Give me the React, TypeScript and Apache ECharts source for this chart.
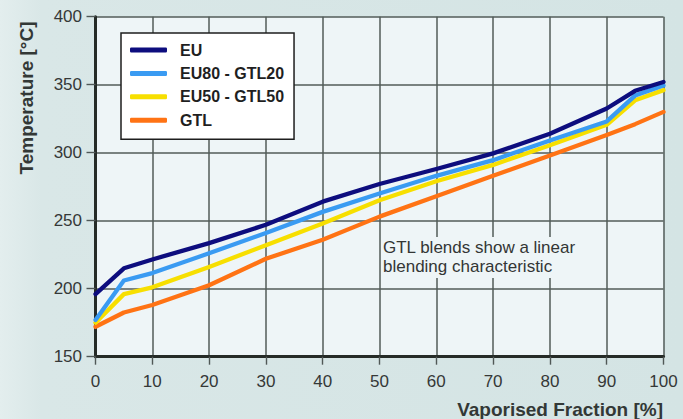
import React, { useEffect, useRef } from "react";
import * as echarts from "echarts";

// Distillation curves: temperature vs. vaporised fraction
const fraction = [0, 5, 10, 20, 30, 40, 50, 60, 70, 80, 90, 95, 100];
const euTemp = [196, 215, 221.5, 233.5, 247, 264, 277, 288, 299.5, 314, 332.5, 345.5, 352];
const eu80Temp = [177, 206, 211.5, 226, 241, 256.5, 270, 283, 294.5, 309, 323, 342, 349.5];
const eu50Temp = [175, 196, 201, 216, 232, 248, 265, 279, 291, 305.5, 320.5, 338.5, 346];
const gtlTemp = [172, 182.5, 188, 202.5, 222, 236, 253, 268, 283, 298, 313, 321, 330];

const seriesNames = ["EU", "EU80 - GTL20", "EU50 - GTL50", "GTL"];
const seriesColors = ["#0d0d7e", "#3a9bf2", "#f7df00", "#ff7314"];
const seriesValues = [euTemp, eu80Temp, eu50Temp, gtlTemp];

const xTitle = "Vaporised Fraction [%]";
const yTitle = "Temperature [°C]";
const noteLines = ["GTL blends show a linear", "blending characteristic"];

const FONT = "'Liberation Sans', Arial, Helvetica, sans-serif";
const PLOT_BG = "#eef5f7";

export default function App() {
  const ref = useRef<HTMLDivElement>(null);

  useEffect(() => {
    if (!ref.current) return;
    const chart = echarts.init(ref.current, undefined, { renderer: "svg" });

    const series = seriesNames.map((name, i) => ({
      name,
      type: "line",
      showSymbol: false,
      symbol: "none",
      z: 10 - i,
      data: fraction.map((x, k) => [x, seriesValues[i][k]]),
      lineStyle: { color: seriesColors[i], width: 4.3, join: "round", cap: "round" },
      itemStyle: { color: seriesColors[i] },
    }));

    chart.setOption({
      animation: false,
      backgroundColor: new echarts.graphic.LinearGradient(0, 0, 1, 0, [
        { offset: 0, color: "#e3eeee" },
        { offset: 0.06, color: "#d9e7e7" },
        { offset: 1, color: "#d4e4e4" },
      ]),
      textStyle: { fontFamily: FONT },
      grid: {
        left: 95.5,
        right: 19.5,
        top: 16.7,
        bottom: 62.3,
        show: true,
        backgroundColor: PLOT_BG,
        borderWidth: 0,
      },
      xAxis: {
        type: "value",
        min: 0,
        max: 100,
        interval: 10,
        axisLine: { show: true, onZero: false, lineStyle: { color: "#252b27", width: 3 } },
        axisTick: { show: true, length: 8, lineStyle: { color: "#505856", width: 1.4 } },
        axisLabel: { margin: 16, fontSize: 17, color: "#353837", fontFamily: FONT },
        splitLine: { show: true, lineStyle: { color: "#525b58", width: 1.5 } },
      },
      yAxis: {
        type: "value",
        min: 150,
        max: 400,
        interval: 50,
        axisLine: { show: true, onZero: false, lineStyle: { color: "#252b27", width: 3 } },
        axisTick: { show: true, length: 9, lineStyle: { color: "#505856", width: 1.4 } },
        axisLabel: { margin: 13.5, fontSize: 17, color: "#353837", fontFamily: FONT },
        splitLine: { show: true, lineStyle: { color: "#525b58", width: 1.5 } },
      },
      legend: {
        orient: "vertical",
        left: 121,
        top: 33,
        padding: [9, 10, 11, 9],
        itemGap: 7.4,
        itemWidth: 37,
        itemHeight: 5,
        icon: "roundRect",
        backgroundColor: "#ffffff",
        borderColor: "#1e1e1e",
        borderWidth: 1.5,
        borderRadius: 0,
        data: seriesNames,
        textStyle: {
          fontFamily: FONT,
          fontSize: 16,
          fontWeight: "bold",
          color: "#1f1f1f",
          padding: [0, 0, 0, 8],
        },
      },
      graphic: [
        {
          type: "text",
          x: 26,
          y: 98,
          rotation: Math.PI / 2,
          style: {
            text: yTitle,
            fontFamily: FONT,
            fontSize: 19,
            fontWeight: "bold",
            fill: "#333836",
            textAlign: "center",
            textVerticalAlign: "middle",
          },
        },
        {
          type: "text",
          x: 663,
          y: 409,
          style: {
            text: xTitle,
            fontFamily: FONT,
            fontSize: 19,
            fontWeight: "bold",
            fill: "#333836",
            textAlign: "right",
            textVerticalAlign: "middle",
          },
        },
        {
          type: "text",
          x: 382,
          y: 237,
          z: 5,
          style: {
            text: noteLines.join("\n"),
            fontFamily: FONT,
            fontSize: 17,
            lineHeight: 19,
            fill: "#333635",
            backgroundColor: PLOT_BG,
            padding: [1, 4, 2, 1],
            textAlign: "left",
            textVerticalAlign: "top",
          },
        },
      ],
      series,
    });

    return () => chart.dispose();
  }, []);

  return (
    <div
      ref={ref}
      style={{ position: "fixed", left: 0, top: 0, width: 683, height: 419 }}
    />
  );
}
